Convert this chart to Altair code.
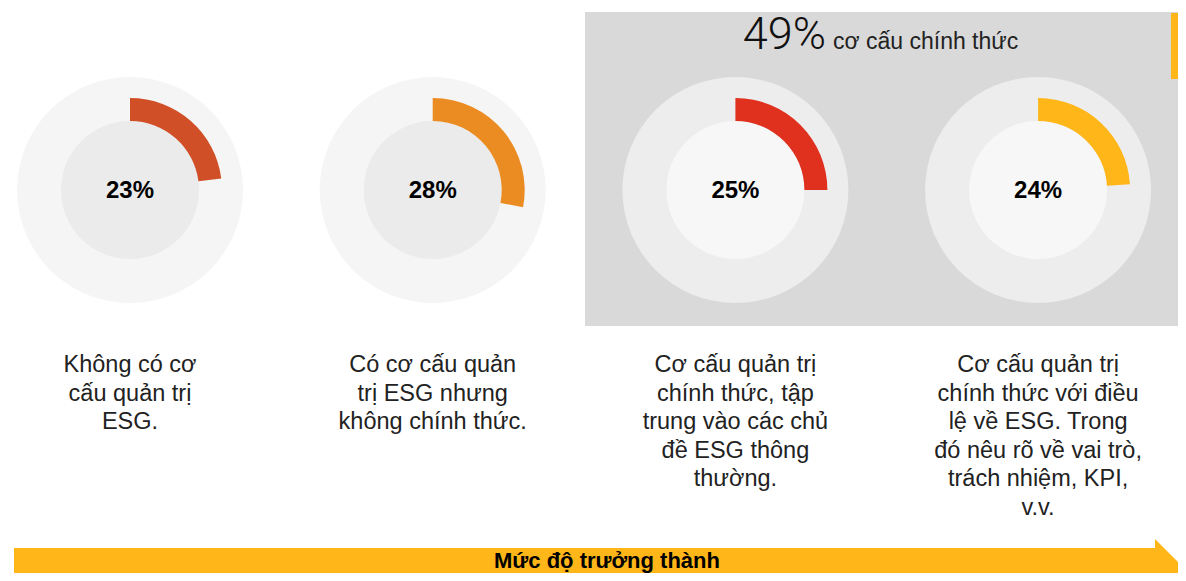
import math
import altair as alt
import pandas as pd

# ---------------- data ----------------
label_lines = [
    ["Không có cơ", "cấu quản trị", "ESG."],
    ["Có cơ cấu quản", "trị ESG nhưng", "không chính thức."],
    ["Cơ cấu quản trị", "chính thức, tập", "trung vào các chủ", "đề ESG thông", "thường."],
    ["Cơ cấu quản trị", "chính thức với điều", "lệ về ESG. Trong", "đó nêu rõ về vai trò,",
     "trách nhiệm, KPI,", "v.v."],
]
values = [23, 28, 25, 24]
arc_colors = ["#D04F27", "#EB8C23", "#E0301E", "#FFB618"]
formal_share = 49
formal_label = "cơ cấu chính thức"
arrow_label = "Mức độ trưởng thành"

# ---------------- layout (page pixels) ----------------
W, H, M = 1170, 565, 8          # plot size and page margin
CX0, STEP, CY = 130, 302.7, 190  # donut centres
R_OUT, R_ARC, R_IN = 113, 92, 69
PANEL = dict(x=585, x2=1190, y=12, y2=326)
TAB = dict(x=1171, x2=1180, y=13, y2=79)

xs = alt.Scale(domain=[M, M + W], nice=False, zero=False)
ys = alt.Scale(domain=[M, M + H], nice=False, zero=False, reverse=True)


def X(f):
    return alt.X(f, type="quantitative", scale=xs, axis=None)


def Y(f):
    return alt.Y(f, type="quantitative", scale=ys, axis=None)


rows = []
for i, (v, c, lines) in enumerate(zip(values, arc_colors, label_lines)):
    formal = i >= 2
    rows.append(dict(
        cx=CX0 + STEP * i, cy=CY, value=v, color=c,
        t0=0.0, t1=v / 100 * 2 * math.pi,
        pct=f"{v}%",
        outer="#EDEDED" if formal else "#F5F5F5",
        inner="#F7F7F7" if formal else "#EBEBEB",
        label="\n".join(lines),
        ly=372,
    ))
donuts = pd.DataFrame(rows)

base = alt.Chart(donuts)

panel = alt.Chart(pd.DataFrame([PANEL])).mark_rect(color="#D9D9D9", clip=True).encode(
    x=X("x"), x2="x2", y=Y("y"), y2="y2")
tab = alt.Chart(pd.DataFrame([TAB])).mark_rect(color="#FFB618", clip=True).encode(
    x=X("x"), x2="x2", y=Y("y"), y2="y2")

outer = base.mark_arc(radius=R_OUT, radius2=0, theta=0, theta2=2 * math.pi).encode(
    x=X("cx"), y=Y("cy"), color=alt.Color("outer:N", scale=None))
inner = base.mark_arc(radius=R_IN, radius2=0, theta=0, theta2=2 * math.pi).encode(
    x=X("cx"), y=Y("cy"), color=alt.Color("inner:N", scale=None))
arcs = base.mark_arc(radius=R_ARC, radius2=R_IN).encode(
    x=X("cx"), y=Y("cy"),
    theta=alt.Theta("t0:Q", scale=None, stack=None), theta2="t1:Q",
    color=alt.Color("color:N", scale=None))

pct = base.mark_text(font="Liberation Sans", fontWeight="bold", fontSize=24,
                     color="#000000", align="center", baseline="alphabetic", dy=8).encode(
    x=X("cx"), y=Y("cy"), text="pct:N")

labels = base.mark_text(font="Liberation Sans", fontSize=23.5, color="#222222",
                        align="center", baseline="alphabetic",
                        lineBreak="\n", lineHeight=28.5).encode(
    x=X("cx"), y=Y("ly"), text="label:N")

title_df = pd.DataFrame([dict(x=826, x_b=833, y=49, big=f"{formal_share}%", small=formal_label)])
title_big = alt.Chart(title_df).mark_text(font="Roboto", fontWeight=300, fontSize=45,
                                          color="#111111", align="right",
                                          baseline="alphabetic").encode(
    x=X("x"), y=Y("y"), text="big:N")
title_small = alt.Chart(title_df).mark_text(font="Liberation Sans", fontSize=23,
                                            color="#222222", align="left",
                                            baseline="alphabetic").encode(
    x=X("x_b"), y=Y("y"), text="small:N")

bar_df = pd.DataFrame([dict(x=14, x2=1160, y=548, y2=610)])
arrow_bar = alt.Chart(bar_df).mark_rect(color="#FFB618", clip=True).encode(
    x=X("x"), x2="x2", y=Y("y"), y2="y2")
head_df = pd.DataFrame(dict(x=[1155, 1195], y=[539, 579], y2=[619, 579]))
arrow_head = alt.Chart(head_df).mark_area(color="#FFB618", clip=True, orient="vertical").encode(
    x=X("x"), y=Y("y"), y2="y2")
arrow_text = alt.Chart(pd.DataFrame([dict(x=607, y=568, t=arrow_label)])).mark_text(
    font="Liberation Sans", fontWeight="bold", fontSize=22, color="#000000",
    align="center", baseline="alphabetic").encode(x=X("x"), y=Y("y"), text="t:N")

chart = alt.layer(
    panel, tab, outer, inner, arcs, pct, labels, title_big, title_small,
    arrow_bar, arrow_head, arrow_text
).properties(
    width=W, height=H, padding=0,
    autosize=alt.AutoSizeParams(type="none"),
).configure_view(stroke=None)

chart.save("out.html", embed_options={"renderer": "svg", "actions": False})
